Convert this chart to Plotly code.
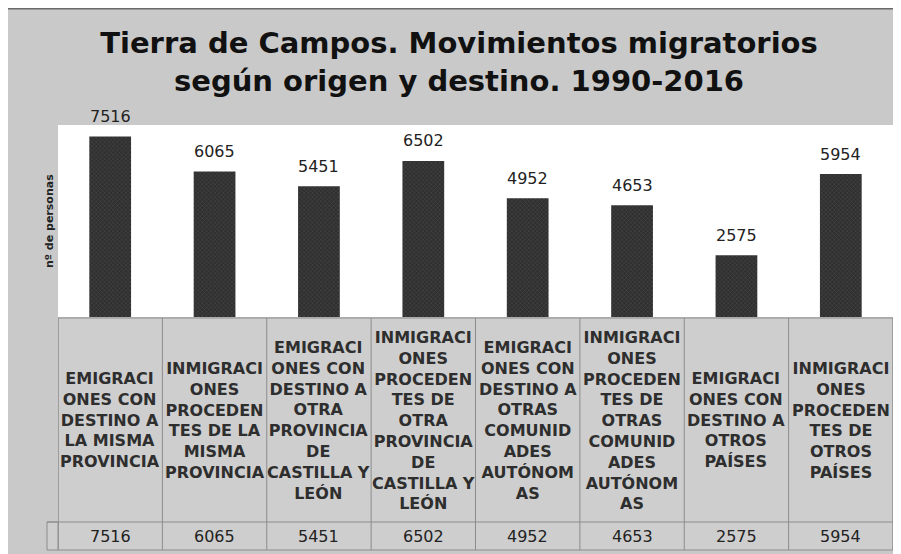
import plotly.graph_objects as go

# categorías (texto tal como aparece partido en la tabla de datos)
categorias = [
    ["EMIGRACI", "ONES CON", "DESTINO A", "LA MISMA", "PROVINCIA"],
    ["INMIGRACI", "ONES", "PROCEDEN", "TES DE LA", "MISMA", "PROVINCIA"],
    ["EMIGRACI", "ONES CON", "DESTINO A", "OTRA", "PROVINCIA", "DE", "CASTILLA Y", "LEÓN"],
    ["INMIGRACI", "ONES", "PROCEDEN", "TES DE", "OTRA", "PROVINCIA", "DE", "CASTILLA Y", "LEÓN"],
    ["EMIGRACI", "ONES CON", "DESTINO A", "OTRAS", "COMUNID", "ADES", "AUTÓNOM", "AS"],
    ["INMIGRACI", "ONES", "PROCEDEN", "TES DE", "OTRAS", "COMUNID", "ADES", "AUTÓNOM", "AS"],
    ["EMIGRACI", "ONES CON", "DESTINO A", "OTROS", "PAÍSES"],
    ["INMIGRACI", "ONES", "PROCEDEN", "TES DE", "OTROS", "PAÍSES"],
]
valores = [7516, 6065, 5451, 6502, 4952, 4653, 2575, 5954]

titulo = "Tierra de Campos. Movimientos migratorios<br>según origen y destino. 1990-2016"
titulo_eje_y = "nº de personas"

# la página deja 8 px de margen, así que el gráfico empieza en (8, 8)
OFF = 8
W, H = 901 - OFF, 554 - OFF
# área de trazado (en píxeles de la página)
PL, PT, PR, PB = 58, 125, 893, 317
PW, PH = PR - PL, PB - PT


def px(p):
    return (p - PL) / PW


def py(p):
    return (PB - p) / PH


claves = ["<br>".join(c) for c in categorias]

fig = go.Figure()
fig.add_trace(go.Bar(
    x=claves, y=valores,
    width=0.4,
    marker=dict(
        color="#2f2f2f",
        line=dict(width=0),
        pattern=dict(shape="x", fgcolor="#666666", size=3, solidity=0.3),
    ),
    showlegend=False,
    hoverinfo="y",
))

gris_borde = "#8c8c8c"
gris_celda = "#cecece"
n = len(claves)
shapes = []

# filo superior del gráfico
shapes.append(dict(type="line", xref="paper", yref="paper",
                   x0=px(OFF - 1), x1=px(901), y0=py(OFF + 0.5), y1=py(OFF + 0.5),
                   line=dict(color="#6a6a6a", width=2)))

# tabla de datos: fondo de celdas
shapes.append(dict(type="rect", xref="x", yref="paper",
                   x0=-0.5, x1=n - 0.5, y0=py(318), y1=py(550),
                   fillcolor=gris_celda, line=dict(color=gris_borde, width=1)))
shapes.append(dict(type="rect", xref="paper", yref="paper",
                   x0=px(47), x1=px(PL), y0=py(522), y1=py(550),
                   fillcolor=gris_celda, line=dict(color=gris_borde, width=1)))
# líneas de la tabla
for i in range(n + 1):
    shapes.append(dict(type="line", xref="x", yref="paper",
                       x0=i - 0.5, x1=i - 0.5, y0=py(318), y1=py(550),
                       line=dict(color=gris_borde, width=1)))
shapes.append(dict(type="line", xref="paper", yref="paper",
                   x0=px(47), x1=1, y0=py(522), y1=py(522),
                   line=dict(color=gris_borde, width=1)))

annotations = []
for k, v in zip(claves, valores):
    # etiqueta sobre la barra
    annotations.append(dict(x=k, y=v, xref="x", yref="y", text=str(v),
                            showarrow=False, yanchor="middle", yshift=20,
                            font=dict(family="DejaVu Sans", size=16, color="#222222")))
    # texto de la categoría en la tabla
    annotations.append(dict(x=k, y=py(420), xref="x", yref="paper", text=k,
                            showarrow=False, yanchor="middle", align="center",
                            font=dict(family="DejaVu Sans", size=16, color="#2e2e2e",
                                      weight="bold")))
    # valor en la fila de la tabla
    annotations.append(dict(x=k, y=py(536), xref="x", yref="paper", text=str(v),
                            showarrow=False, yanchor="middle",
                            font=dict(family="DejaVu Sans", size=16, color="#222222")))

annotations.append(dict(x=px(49), y=0.5, xref="paper", yref="paper",
                        text=titulo_eje_y, textangle=-90, showarrow=False,
                        xanchor="center", yanchor="middle",
                        font=dict(family="DejaVu Sans", size=11, color="#222222",
                                  weight="bold")))

fig.update_layout(
    width=W, height=H,
    margin=dict(l=PL - OFF, r=901 - PR, t=PT - OFF, b=OFF + H - PB),
    paper_bgcolor="#c9c9c9",
    plot_bgcolor="white",
    title=dict(text=titulo, x=(459 - OFF) / W, xanchor="center",
               yref="container", y=1 - 45 / H, yanchor="middle",
               font=dict(family="DejaVu Sans", size=29, color="#111111", weight="bold")),
    xaxis=dict(range=[-0.5, n - 0.5], showticklabels=False, ticks="",
               showgrid=False, zeroline=False, showline=False),
    yaxis=dict(range=[0, 8000], showticklabels=False, ticks="",
               showgrid=False, zeroline=False, showline=False),
    shapes=shapes,
    annotations=annotations,
)

fig.write_html("out.html")
